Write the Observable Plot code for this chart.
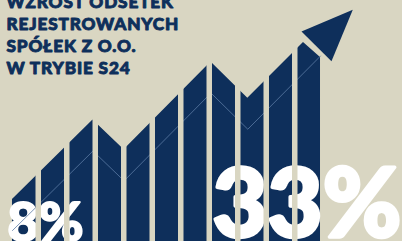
<!DOCTYPE html>
<html>
<head>
<meta charset="utf-8">
<script src="https://cdn.jsdelivr.net/npm/d3@7"></script>
<script src="https://cdn.jsdelivr.net/npm/@observablehq/plot@0.6"></script>
<style>
  html, body { margin: 0; padding: 0; background: #d9d6c2; }
  #chart svg { display: block; }
  #chart g[fill="#0e2f5b"] text { letter-spacing: 0.85px; }
</style>
</head>
<body>
<div id="chart"></div>
<script>
// Title lines (Polish)
const titleLines = ["WZROST ODSETEK", "REJESTROWANYCH", "SPÓŁEK Z O.O.", "W TRYBIE S24"];
// Start / end labels
const startLabel = "8%";
const endLabel = "33%";

// Bars: 11 vertical strips, positioned by index
const bars = [0, 1, 2, 3, 4, 5, 6, 7, 8, 9, 10];

// Trend polyline vertices (x in bar units, y in percent level)
const trendX = [-0.404, 2.421, 3.512, 6.561, 7.853, 10.404];
const trendY = [8.0, 18.48, 14.55, 26.12, 21.35, 31.0];

// Filled top of the bars (trend cut before the arrow head)
const fillX = [-0.404, 2.421, 3.512, 6.561, 7.853, 9.807, 10.404];
const fillY = [8.0, 18.48, 14.55, 26.12, 21.35, 28.69, 26.71];

// Arrow head triangle (base-left, tip, base-right)
const arrowX = [9.737, 11.537, 10.789];
const arrowY = [30.14, 33.0, 26.23];

const navy = "#0e2f5b";
const bg = "#d9d6c2";
const faint = "#5a7aa3";
const shadowDrop = 4.09; // faint copy of the trend, below it

const fillData = fillX.map((x, i) => ({x, y: fillY[i]}));
const trendShadow = trendX.map((x, i) => ({x, y: trendY[i] - shadowDrop}));
const arrowData = [0, 1, 2, 0].map(i => ({x: arrowX[i], y: arrowY[i]}));
const gaps = bars.slice(1).map(i => i - 0.5);

const font = "Lato, sans-serif";

const chart = Plot.plot({
  width: 402,
  height: 241,
  margin: 0,
  style: {background: bg, overflow: "hidden"},
  x: {domain: [-0.8246, 13.281], axis: null},
  y: {domain: [2.465, 34.226], axis: null},
  marks: [
    Plot.areaY(fillData, {x: "x", y: "y", fill: navy, clip: true}),
    Plot.line(arrowData, {x: "x", y: "y", fill: navy, stroke: "none"}),
    Plot.text([startLabel], {
      frameAnchor: "bottom-left", text: d => d, textAnchor: "start", lineAnchor: "bottom",
      fill: "white", stroke: "white", strokeWidth: 2.2, fontSize: 54, fontWeight: 900,
      fontFamily: font, dx: 7, dy: -1
    }),
    Plot.text([endLabel], {
      frameAnchor: "bottom-left", text: d => d, textAnchor: "start", lineAnchor: "bottom",
      fill: "white", stroke: "white", strokeWidth: 3.5, fontSize: 95, fontWeight: 900,
      fontFamily: font, dx: 212, dy: -5
    }),
    Plot.line(trendShadow, {x: "x", y: "y", stroke: faint, strokeWidth: 0.8}),
    Plot.ruleX(gaps, {stroke: bg, strokeWidth: 5.5}),
    Plot.text([titleLines.join("\n")], {
      frameAnchor: "top-left", text: d => d, textAnchor: "start", lineAnchor: "top",
      fill: navy, stroke: navy, strokeWidth: 0.9, fontSize: 17.2, fontWeight: 900,
      fontFamily: font, lineHeight: 1.28, dx: 6, dy: -8.3
    })
  ]
});
document.getElementById("chart").append(chart);
</script>
</body>
</html>
